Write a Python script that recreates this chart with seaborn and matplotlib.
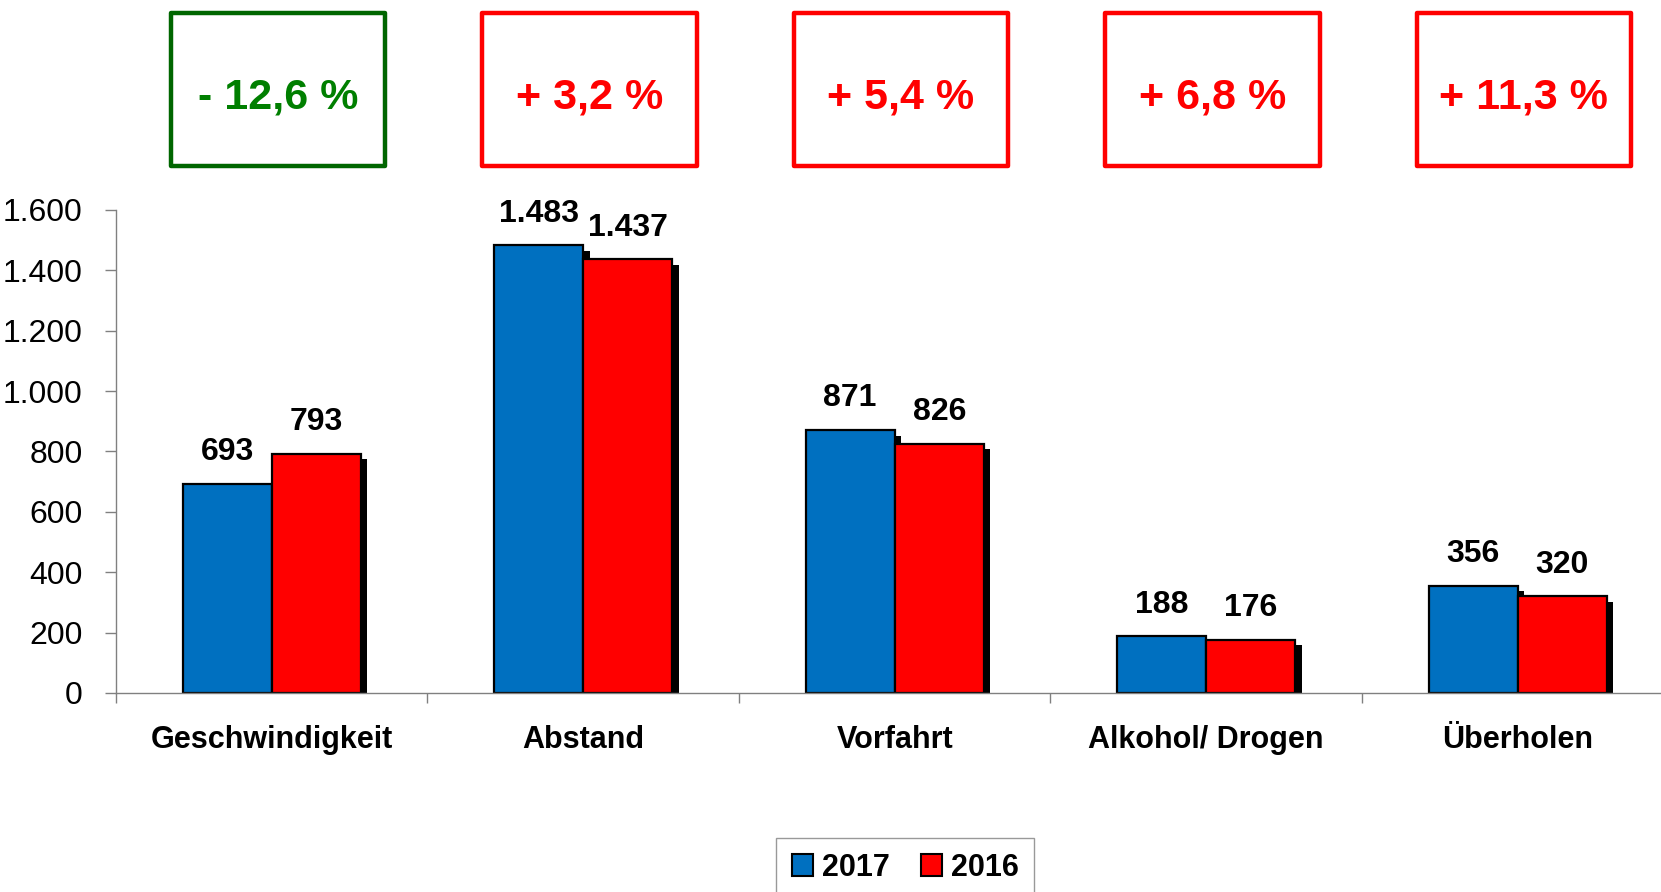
import matplotlib
matplotlib.use("Agg")
import matplotlib.pyplot as plt
import matplotlib.transforms as mtransforms
from matplotlib import font_manager
from matplotlib.patches import Rectangle, Patch
from matplotlib.ticker import FuncFormatter
import numpy as np
import pandas as pd
import seaborn as sns

categories = ["Geschwindigkeit", "Abstand", "Vorfahrt", "Alkohol/ Drogen", "Überholen"]
years = ["2017", "2016"]
values_2017 = [693, 1483, 871, 188, 356]
values_2016 = [793, 1437, 826, 176, 320]
change_labels = ["- 12,6 %", "+ 3,2 %", "+ 5,4 %", "+ 6,8 %", "+ 11,3 %"]

df = pd.DataFrame({
    "kategorie": categories * 2,
    "jahr": ["2017"] * 5 + ["2016"] * 5,
    "anzahl": values_2017 + values_2016,
})

blue = "#0070C0"
red = "#FF0000"
green_edge = "#006600"
green_text = "#007F00"
grey = "#808080"

sns.set_style("white")
installed = {f.name for f in font_manager.fontManager.ttflist}
narrow = "Liberation Sans Narrow" if "Liberation Sans Narrow" in installed else "Liberation Sans"
plt.rcParams["font.family"] = [narrow, "DejaVu Sans"]
plt.rcParams["text.color"] = "black"
plt.rcParams["xtick.color"] = "black"
plt.rcParams["ytick.color"] = "black"


def dotted(v, pos=None):
    return f"{v:,.0f}".replace(",", ".")


fig = plt.figure(figsize=(16.61, 8.92), dpi=100)
ax = fig.add_axes([0.0698, 0.2231, 0.9377, 0.5415])

sns.barplot(data=df, x="kategorie", y="anzahl", hue="jahr", hue_order=years,
            order=categories, palette=[blue, red], saturation=1, width=0.572, gap=0,
            edgecolor="black", linewidth=1.6, legend=False, ax=ax, zorder=2)

# excel-style drop shadow behind all bars
shadow_off = mtransforms.ScaledTranslation(0.065, -0.055, fig.dpi_scale_trans)
for bar in ax.patches[:]:
    sh = Rectangle(bar.get_xy(), bar.get_width(), bar.get_height(),
                   facecolor="black", edgecolor="none", zorder=1,
                   transform=ax.transData + shadow_off)
    ax.add_patch(sh)
    sh.set_clip_path(ax.patch)

for cont in ax.containers:
    ax.bar_label(cont, labels=[dotted(b.get_height()) for b in cont],
                 padding=12, fontsize=23, fontweight="bold", color="black")

ax.set_ylim(0, 1600)
ax.set_xlim(-0.5, 4.5)
ax.set_yticks(np.arange(0, 1601, 200))
ax.yaxis.set_major_formatter(FuncFormatter(dotted))
ax.set_xticks(np.arange(-0.5, 5, 1))
ax.set_xticklabels([])
ax.set_xticks(np.arange(5), minor=True)
ax.set_xticklabels(categories, minor=True, fontsize=22, fontweight="bold")
ax.tick_params(axis="y", length=8, width=1, color=grey, pad=16, labelsize=23,
               labelcolor="black", left=True)
ax.tick_params(axis="x", which="major", length=7, width=1, color=grey, bottom=True)
ax.tick_params(axis="x", which="minor", length=0, pad=23, labelcolor="black")
ax.set_xlabel("")
ax.set_ylabel("")
for s in ["top", "right"]:
    ax.spines[s].set_visible(False)
for s in ["left", "bottom"]:
    ax.spines[s].set_color(grey)
    ax.spines[s].set_linewidth(1)
    ax.spines[s].set_zorder(3)

# change boxes above each category
bt = mtransforms.blended_transform_factory(ax.transData, fig.transFigure)
for i, txt in enumerate(change_labels):
    down = txt.startswith("-")
    ec = green_edge if down else red
    tc = green_text if down else red
    cx = i + 0.02
    ax.add_patch(Rectangle((cx - 0.344, 0.814), 0.688, 0.171, transform=bt,
                           facecolor="white", edgecolor=ec, linewidth=3.2,
                           clip_on=False, joinstyle="round"))
    ax.text(cx, 0.891, txt, transform=bt, ha="center", va="center",
            fontsize=31, fontweight="bold", color=tc, family="Liberation Sans")

handles = [Patch(facecolor=blue, edgecolor="black", linewidth=1.5),
           Patch(facecolor=red, edgecolor="black", linewidth=1.5)]
leg = fig.legend(handles, years, loc="upper center", bbox_to_anchor=(0.545, 0.061),
                 ncol=2, frameon=True, fancybox=False, edgecolor=grey,
                 prop={"size": 22, "weight": "bold"}, handlelength=0.7,
                 handleheight=0.7, handletextpad=0.3, columnspacing=1.0,
                 borderpad=0.5, borderaxespad=0)
leg.get_frame().set_linewidth(1)

fig.savefig("out.png", dpi=100)
